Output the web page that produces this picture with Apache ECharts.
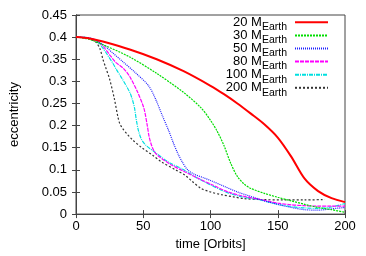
<!DOCTYPE html>
<html><head><meta charset="utf-8">
<script src="https://cdn.jsdelivr.net/npm/echarts@6/dist/echarts.min.js"></script>
<style>html,body{margin:0;padding:0;background:#fff}#c{width:366px;height:256px}</style>
</head><body><div id="c"></div>
<script>
var seriesNames = ['20', '30', '50', '80', '100', '200'];
var xTicks = [0, 50, 100, 150, 200];
var yTicks = [0, 0.05, 0.1, 0.15, 0.2, 0.25, 0.3, 0.35, 0.4, 0.45];

var t20 = [0, 10, 20, 40, 60, 80, 100, 110, 120, 130, 140, 150, 160, 170, 180, 190, 200];
var e20 = [0.40, 0.397, 0.39, 0.372, 0.35, 0.323, 0.29, 0.271, 0.25, 0.227, 0.203, 0.173, 0.13, 0.08, 0.052, 0.036, 0.027];

var t30 = [0, 10, 20, 40, 60, 80, 93, 100, 105, 110, 115, 120, 125, 130, 140, 150, 160, 170, 180, 190, 200];
var e30 = [0.40, 0.395, 0.383, 0.355, 0.318, 0.275, 0.24, 0.212, 0.187, 0.155, 0.115, 0.085, 0.068, 0.058, 0.047, 0.038, 0.03, 0.022, 0.015, 0.01, 0.004];

var t50 = [0, 10, 20, 27, 34.6, 44, 54, 59, 64, 69, 72.5, 76, 79, 83, 88, 95, 100, 110, 120, 130, 140, 150, 160, 170, 180, 190, 200];
var e50 = [0.40, 0.398, 0.383, 0.365, 0.345, 0.32, 0.29, 0.261, 0.224, 0.188, 0.16, 0.135, 0.118, 0.1, 0.09, 0.082, 0.076, 0.063, 0.05, 0.04, 0.03, 0.022, 0.015, 0.01, 0.009, 0.012, 0.015];

var t80 = [0, 10, 15, 20, 25, 29.6, 35, 39.7, 45.6, 50.5, 53, 54.5, 56.6, 59, 62.7, 71, 80, 90, 100, 113, 125, 137, 150, 160, 170, 180, 190, 200];
var e80 = [0.40, 0.398, 0.393, 0.38, 0.36, 0.343, 0.33, 0.312, 0.277, 0.239, 0.2, 0.173, 0.152, 0.138, 0.128, 0.111, 0.097, 0.082, 0.068, 0.05, 0.04, 0.033, 0.025, 0.021, 0.019, 0.018, 0.018, 0.018];

var t100 = [0, 5, 10, 15, 20, 24, 27, 30, 34.5, 40, 42, 43.5, 45, 46.5, 48.5, 51.5, 59, 69, 79, 88, 100, 113, 125, 137, 150, 160, 170, 180, 190, 200];
var e100 = [0.40, 0.40, 0.398, 0.392, 0.375, 0.357, 0.343, 0.327, 0.305, 0.275, 0.258, 0.24, 0.21, 0.188, 0.17, 0.157, 0.139, 0.117, 0.102, 0.085, 0.066, 0.048, 0.038, 0.032, 0.022, 0.017, 0.014, 0.013, 0.016, 0.024];

var t200 = [0, 5, 10, 15, 18, 20, 22, 25, 28.5, 31, 32.5, 35, 38, 42, 49, 57, 64, 74, 81, 86, 93, 100, 108, 117, 125, 137, 155, 170, 185];
var e200 = [0.40, 0.399, 0.396, 0.388, 0.372, 0.35, 0.332, 0.305, 0.261, 0.222, 0.205, 0.192, 0.181, 0.168, 0.15, 0.133, 0.117, 0.1, 0.088, 0.075, 0.058, 0.05, 0.044, 0.039, 0.035, 0.033, 0.032, 0.032, 0.033];

var times = [t20, t30, t50, t80, t100, t200];
var values = [e20, e30, e50, e80, e100, e200];
var colors = ['#ff0000', '#00dd00', '#2020ff', '#ff00ff', '#00e0e0', '#333333'];
var widths = [2, 1.2, 1.2, 1.2, 1.2, 1.2];
var dashes = ['solid', [2, 1], [1, 1], [4, 1], [4, 1, 1, 1], [2, 2]];

function zip(a, b) { return a.map(function (v, i) { return [v, b[i]]; }); }

var series = seriesNames.map(function (n, i) {
  return {
    name: n, type: 'line', symbol: 'none', smooth: 0.3,
    data: zip(times[i], values[i]),
    lineStyle: { color: colors[i], width: widths[i], type: dashes[i] },
    itemStyle: { color: colors[i] },
    z: 10 - i
  };
});

var font = 'Liberation Sans, Arial, sans-serif';
var chart = echarts.init(document.getElementById('c'), null, { renderer: 'canvas' });
chart.setOption({
  animation: false,
  backgroundColor: '#fff',
  grid: { left: 73, right: 21, top: 15, bottom: 38, show: true, borderColor: '#444', borderWidth: 1 },
  legend: {
    orient: 'vertical', right: 37, top: 15.5, align: 'right',
    itemWidth: 33, itemHeight: 17, itemGap: -4.2, padding: 0,
    itemStyle: { opacity: 0 },
    data: seriesNames,
    formatter: function (n) { return '{n|' + n + ' M}{s|Earth}'; },
    textStyle: {
      fontFamily: font, color: '#000', padding: [0, 3, 0, 0],
      rich: {
        n: { fontSize: 13, fontFamily: font, color: '#000', lineHeight: 13, verticalAlign: 'top' },
        s: { fontSize: 10.5, fontFamily: font, color: '#000', lineHeight: 11, padding: [6, 0, 0, 0], verticalAlign: 'top' }
      }
    }
  },
  xAxis: [{
    type: 'value', min: xTicks[0], max: xTicks[xTicks.length - 1], interval: 50,
    name: 'time [Orbits]', nameLocation: 'middle', nameGap: 19,
    nameTextStyle: { fontFamily: font, fontSize: 13, color: '#000' },
    axisLine: { show: true, lineStyle: { color: '#444' } },
    axisTick: { inside: true, length: 4, lineStyle: { color: '#444' } },
    axisLabel: { fontFamily: font, fontSize: 13, color: '#000', margin: 6 },
    splitLine: { show: false }
  }, {
    type: 'value', position: 'top', min: xTicks[0], max: xTicks[xTicks.length - 1], interval: 50,
    axisLine: { show: true, lineStyle: { color: '#444' } },
    axisTick: { inside: true, length: 4, lineStyle: { color: '#444' } },
    axisLabel: { show: false }, splitLine: { show: false }
  }],
  yAxis: [{
    type: 'value', min: yTicks[0], max: yTicks[yTicks.length - 1], interval: 0.05,
    name: 'eccentricity', nameLocation: 'middle', nameGap: 55,
    nameTextStyle: { fontFamily: font, fontSize: 13, color: '#000' },
    axisLine: { show: true, lineStyle: { color: '#444' } },
    axisTick: { inside: true, length: 4, lineStyle: { color: '#444' } },
    axisLabel: { fontFamily: font, fontSize: 13, color: '#000', margin: 9,
      formatter: function (v) { return String(+v.toFixed(2)); } },
    splitLine: { show: false }
  }, {
    type: 'value', position: 'right', min: yTicks[0], max: yTicks[yTicks.length - 1], interval: 0.05,
    axisLine: { show: true, lineStyle: { color: '#444' } },
    axisTick: { inside: true, length: 4, lineStyle: { color: '#444' } },
    axisLabel: { show: false }, splitLine: { show: false }
  }],
  series: series
});
</script></body></html>
